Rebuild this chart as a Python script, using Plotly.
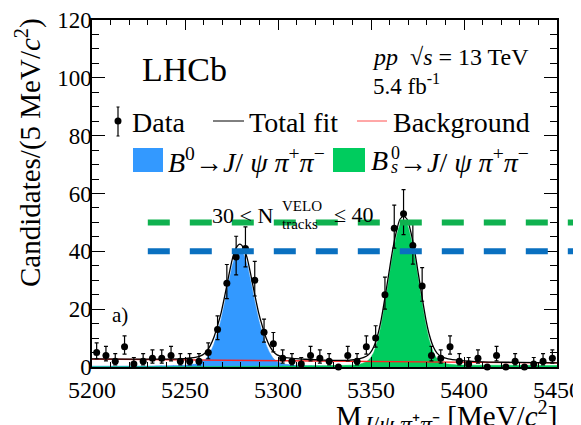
import math
import plotly.graph_objects as go

# ---------------- data ----------------
bin_centers = [5202.5, 5207.5, 5212.5, 5217.5, 5222.5, 5227.5, 5232.5, 5237.5, 5242.5, 5247.5,
               5252.5, 5257.5, 5262.5, 5267.5, 5272.5, 5277.5, 5282.5, 5287.5, 5292.5, 5297.5,
               5302.5, 5307.5, 5312.5, 5317.5, 5322.5, 5327.5, 5332.5, 5337.5, 5342.5, 5347.5,
               5352.5, 5357.5, 5362.5, 5367.5, 5372.5, 5377.5, 5382.5, 5387.5, 5392.5, 5397.5,
               5402.5, 5407.5, 5412.5, 5417.5, 5422.5, 5427.5, 5432.5, 5437.5, 5442.5, 5447.5]
counts = [5, 4, 2, 7, 1, 2, 3, 3, 4, 2,
          2, 2, 5, 13, 29, 38, 41, 30, 12, 8,
          3, 2, 1, 4, 3, 2, 0, 4, 2, 7,
          10, 25, 48, 53, 42, 28, 4, 3, 7, 2,
          1, 3, 0, 4, 0, 2, 0, 1, 2, 3]

fit_x = [5200, 5220, 5240, 5249.5, 5255.5, 5259.5,
         5261.5, 5263.5, 5265.5, 5267.5, 5269.5, 5271.5, 5273.5, 5275.5, 5277.5, 5279.5,
         5281.5, 5283.5, 5285.5, 5287.5, 5289.5, 5291.5, 5293.5, 5295.5, 5297.5, 5299.5,
         5303.5, 5309.5, 5320, 5330, 5337.5, 5343.5,
         5347.5, 5349.5, 5351.5, 5353.5, 5355.5, 5357.5, 5359.5, 5361.5, 5363.5, 5365.5,
         5367.5, 5369.5, 5371.5, 5373.5, 5375.5, 5377.5, 5379.5, 5381.5, 5383.5, 5385.5, 5387.5,
         5391.5, 5397.5, 5410, 5430, 5450]
fit_y = [2.8, 2.75, 2.75, 2.9, 3.3, 4.2,
         5.3, 7.3, 10.2, 14.3, 19, 25, 31.5, 37.5, 41.2, 42.5,
         41.2, 37.5, 31.5, 25, 19, 14.3, 10.2, 7.3, 5.3, 4.2,
         3.3, 2.9, 2.5, 2.3, 2.3, 2.8,
         3.7, 4.8, 7, 10.8, 16.5, 24, 32, 40, 46.5, 51,
         52.2, 51, 46.5, 40, 32, 24, 16.5, 10.8, 7, 4.8, 3.7,
         2.8, 2.3, 1.8, 1.6, 1.45]

bkg_x = [5200, 5450]
bkg_y = [2.7, 1.4]

b0_x = [5200, 5230, 5249.5, 5255.5, 5259.5,
        5261.5, 5263.5, 5265.5, 5267.5, 5269.5, 5271.5, 5273.5, 5275.5, 5277.5, 5279.5,
        5281.5, 5283.5, 5285.5, 5287.5, 5289.5, 5291.5, 5293.5, 5295.5, 5297.5, 5299.5,
        5303.5, 5309.5, 5330, 5450]
b0_y = [0.3, 0.35, 0.6, 1.0, 1.9,
        3, 5, 7.9, 12, 16.7, 22.7, 29.2, 35.2, 38.9, 40.2,
        38.9, 35.2, 29.2, 22.7, 16.7, 12, 7.9, 5, 3, 1.9,
        1.0, 0.6, 0.3, 0.1]

bs_x = [5200, 5300, 5337.5, 5343.5,
        5347.5, 5349.5, 5351.5, 5353.5, 5355.5, 5357.5, 5359.5, 5361.5, 5363.5, 5365.5,
        5367.5, 5369.5, 5371.5, 5373.5, 5375.5, 5377.5, 5379.5, 5381.5, 5383.5, 5385.5, 5387.5,
        5391.5, 5397.5, 5420, 5450]
bs_y = [0.05, 0.3, 0.6, 0.9,
        1.8, 2.9, 5.1, 8.9, 14.6, 22.1, 30.1, 38.1, 44.6, 49.1,
        50.3, 49.1, 44.6, 38.1, 30.1, 22.1, 14.6, 8.9, 5.1, 2.9, 1.8,
        1.0, 0.7, 0.6, 0.5]

x_ticks = [5200, 5250, 5300, 5350, 5400, 5450]
y_ticks = [0, 20, 40, 60, 80, 100, 120]
x_range = [5200, 5450]
y_range = [0, 120]
ref_levels = [40, 50]          # blue / green dashed reference lines
ref_start = 5230

# Poisson (Garwood, Wilson-Hilferty approx.) error bars
err_up, err_dn = [], []
for n in counts:
    if n == 0:
        err_up.append(0); err_dn.append(0)
        continue
    lo = n * (1 - 1 / (9 * n) - 1 / (3 * math.sqrt(n))) ** 3
    hi = (n + 1) * (1 - 1 / (9 * (n + 1)) + 1 / (3 * math.sqrt(n + 1))) ** 3
    err_up.append(hi - n); err_dn.append(n - lo)

# ---------------- styles ----------------
BLUE_FILL = "#3399ff"
GREEN_FILL = "#00cc5e"
BLUE_DASH = "#0a70c0"
GREEN_DASH = "#0fb14f"
FONT = "Liberation Serif, Times New Roman, serif"

W, H = 581, 425
OFF = 8                      # default page (body) margin around the plot div
L, R, T, B = 84, 32, 12, 66
PW, PH = W - L - R, H - T - B


def px(x):                   # page pixel -> paper coordinate
    return (x - OFF - L) / PW


def py(y):
    return (H - B - (y - OFF)) / PH


fig = go.Figure()
fig.add_trace(go.Scatter(x=b0_x, y=b0_y, mode="lines", fill="tozeroy", fillcolor=BLUE_FILL,
                         line=dict(color=BLUE_FILL, width=0.5, shape="spline", smoothing=0.6)))
fig.add_trace(go.Scatter(x=bs_x, y=bs_y, mode="lines", fill="tozeroy", fillcolor=GREEN_FILL,
                         line=dict(color=GREEN_FILL, width=0.5, shape="spline", smoothing=0.6)))
fig.add_trace(go.Scatter(x=bkg_x, y=bkg_y, mode="lines", line=dict(color="#ff2020", width=1.3)))
fig.add_trace(go.Scatter(x=fit_x, y=fit_y, mode="lines",
                         line=dict(color="black", width=1.3, shape="spline", smoothing=0.6)))
fig.add_trace(go.Scatter(x=bin_centers, y=counts, mode="markers", cliponaxis=False,
                         marker=dict(color="black", size=7),
                         error_y=dict(type="data", symmetric=False, array=err_up, arrayminus=err_dn,
                                      color="black", thickness=1.2, width=2)))

shapes = []
for lev, col in zip(ref_levels, [BLUE_DASH, GREEN_DASH]):
    shapes.append(dict(type="line", xref="paper", yref="y",
                       x0=(ref_start - x_range[0]) / (x_range[1] - x_range[0]),
                       x1=px(W + 10), y0=lev, y1=lev, layer="above",
                       line=dict(color=col, width=6, dash="22px,20px")))

# legend (hand-drawn)
shapes += [
    dict(type="line", xref="paper", yref="paper", x0=px(118), x1=px(118), y0=py(107), y1=py(136),
         line=dict(color="black", width=1.2)),
    dict(type="line", xref="paper", yref="paper", x0=px(116.5), x1=px(119.5), y0=py(107), y1=py(107),
         line=dict(color="black", width=1)),
    dict(type="line", xref="paper", yref="paper", x0=px(116.5), x1=px(119.5), y0=py(136), y1=py(136),
         line=dict(color="black", width=1)),
    dict(type="circle", xref="paper", yref="paper", x0=px(114.5), x1=px(121.5), y0=py(117.5), y1=py(124.5),
         fillcolor="black", line=dict(color="black", width=0)),
    dict(type="line", xref="paper", yref="paper", x0=px(213), x1=px(244), y0=py(121), y1=py(121),
         line=dict(color="black", width=1)),
    dict(type="line", xref="paper", yref="paper", x0=px(357), x1=px(387), y0=py(121), y1=py(121),
         line=dict(color="#ff5050", width=1)),
    dict(type="rect", xref="paper", yref="paper", x0=px(133), x1=px(163), y0=py(148), y1=py(172),
         fillcolor=BLUE_FILL, line=dict(width=0)),
    dict(type="rect", xref="paper", yref="paper", x0=px(333), x1=px(365), y0=py(148), y1=py(172),
         fillcolor=GREEN_FILL, line=dict(width=0)),
]


def ann(text, x, y, size, xanchor="left", yanchor="middle", **kw):
    return dict(text=text, x=px(x), y=py(y), xref="paper", yref="paper", showarrow=False,
                xanchor=xanchor, yanchor=yanchor, font=dict(family=FONT, size=size, color="black"),
                borderpad=0, **kw)


annotations = [
    ann("LHCb", 141, 69, 34),
    ann("<i>pp</i>\u00a0\u00a0√<i>s</i> = 13 TeV", 371, 57, 24),
    ann("5.4 fb<sup>-1</sup>", 372, 84, 23),
    ann("Data", 131, 122, 28),
    ann("Total fit", 248, 122, 28),
    ann("Background", 392, 122, 28),
    ann("<i>B</i><sup>0</sup>→<i>J</i>/ <i>ψ π</i><sup>+</sup><i>π</i><sup>−</sup>", 167, 160, 28),
    ann("<i>B</i>", 370, 160, 28),
    ann("0", 390, 153, 18),
    ann("<i>s</i>", 390, 167, 18),
    ann("→<i>J</i>/ <i>ψ π</i><sup>+</sup><i>π</i><sup>−</sup>", 398, 160, 28),
    ann("30 < N", 211, 215, 22),
    ann("VELO", 281, 206, 15),
    ann("tracks", 281, 224, 15),
    ann("≤ 40", 333, 214, 22),
    ann("a)", 111, 315, 21),
    ann("Candidates/(5 MeV/<i>c</i><sup>2</sup>)", 29, 153, 29, xanchor="center", textangle=-90),
    ann("M<sub><span style='font-size:24px'><i>J</i>/<i>ψ</i> <i>π</i>⁺<i>π</i>⁻</span></sub>"
        " [MeV/<i>c</i><sup>2</sup>]", 558, 416, 29, xanchor="right"),
]

axis_common = dict(showline=True, linecolor="black", linewidth=1.5, mirror="allticks",
                   ticks="inside", tickcolor="black", tickwidth=1, showgrid=False, zeroline=False,
                   automargin=False)

fig.update_layout(
    width=W, height=H, margin=dict(l=L, r=R, t=T, b=B, autoexpand=False),
    plot_bgcolor="white", paper_bgcolor="white", showlegend=False,
    font=dict(family=FONT, color="black"),
    xaxis=dict(range=x_range, tickvals=x_ticks, ticklen=10, ticklabelstandoff=0,
               tickfont=dict(family=FONT, size=24, color="black"),
               minor=dict(dtick=10, ticklen=5, ticks="inside", tickcolor="black", tickwidth=1),
               **axis_common),
    yaxis=dict(range=y_range, tickvals=y_ticks, ticklen=13, ticklabelstandoff=-6,
               tickfont=dict(family=FONT, size=23, color="black"),
               minor=dict(dtick=5, ticklen=7, ticks="inside", tickcolor="black", tickwidth=1),
               **axis_common),
    shapes=shapes, annotations=annotations,
)

fig.write_html("out.html")
